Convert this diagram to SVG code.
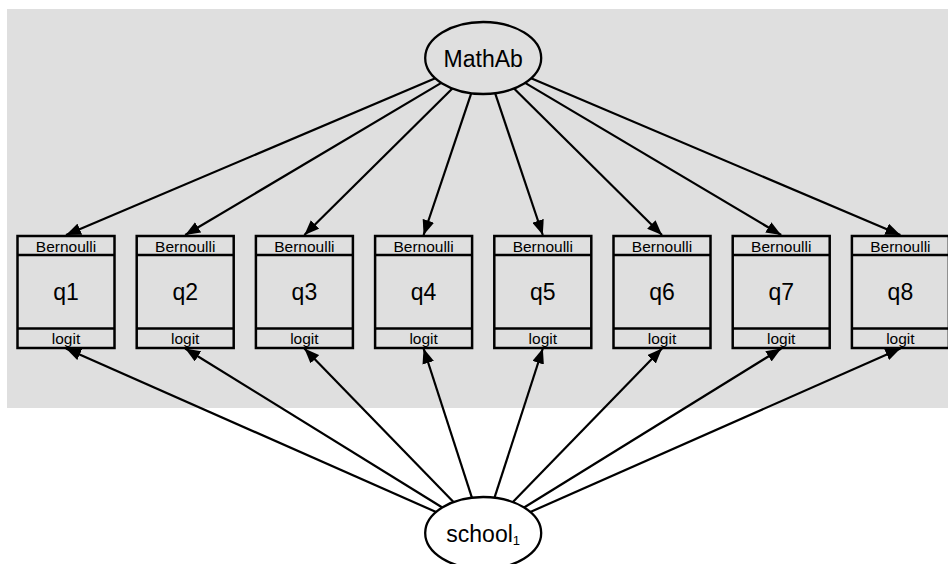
<svg xmlns="http://www.w3.org/2000/svg" width="948" height="564" viewBox="0 0 948 564">
<defs>
<marker id="ah" markerUnits="userSpaceOnUse" markerWidth="15" markerHeight="12" refX="15" refY="6" orient="auto">
<path d="M0,0 L15,6 L0,12 z" fill="#000"/>
</marker>
<style>
.bg{fill:#dfdfdf}
.box{fill:none;stroke:#000;stroke-width:2.5}
.sep{stroke:#000;stroke-width:2.5}
.ell{fill:none;stroke:#000;stroke-width:2.3}
.lab{font-family:"Liberation Sans",Arial,sans-serif;font-size:23px;text-anchor:middle;fill:#000}
.sub{font-size:13px;fill:#000}
.sm{font-family:"Liberation Sans",Arial,sans-serif;font-size:15.5px;text-anchor:middle;fill:#000}
.con line{stroke:#000;stroke-width:2.2;marker-end:url(#ah)}
</style>
</defs>
<rect class="bg" x="7" y="9" width="941" height="399"/>
<g id="connectors" class="con">
<line x1="435.3" y1="78.3" x2="66" y2="235"/>
<line x1="441.3" y1="82.9" x2="185.2" y2="235"/>
<line x1="452.4" y1="88.5" x2="304.4" y2="235"/>
<line x1="471.3" y1="93.2" x2="423.6" y2="235"/>
<line x1="495.1" y1="93.2" x2="542.8" y2="235"/>
<line x1="514.0" y1="88.5" x2="662" y2="235"/>
<line x1="525.1" y1="82.9" x2="781.2" y2="235"/>
<line x1="531.1" y1="78.3" x2="900.4" y2="235"/>
<line x1="436.1" y1="512.0" x2="66" y2="348.5"/>
<line x1="442.3" y1="507.5" x2="185.2" y2="348.5"/>
<line x1="453.5" y1="502.1" x2="304.4" y2="348.5"/>
<line x1="471.9" y1="497.7" x2="423.6" y2="348.5"/>
<line x1="494.5" y1="497.7" x2="542.8" y2="348.5"/>
<line x1="512.9" y1="502.1" x2="662" y2="348.5"/>
<line x1="524.1" y1="507.5" x2="781.2" y2="348.5"/>
<line x1="530.3" y1="512.0" x2="900.4" y2="348.5"/>
</g>
<g id="MathAb">
<ellipse class="ell" cx="483.2" cy="58" rx="58" ry="36"/>
<text class="lab" x="483.2" y="66.5">MathAb</text>
</g>
<g id="school1">
<ellipse class="ell" cx="483.2" cy="533" rx="58" ry="36"/>
<text class="lab" x="483.2" y="542">school<tspan class="sub" dy="3">1</tspan></text>
</g>
<g id="q1" transform="translate(17.5,0)">
<rect class="box" x="0" y="236" width="97" height="112"/>
<line class="sep" x1="0" y1="255" x2="97" y2="255"/>
<line class="sep" x1="0" y1="328.5" x2="97" y2="328.5"/>
<text class="sm" x="48.5" y="251.5">Bernoulli</text>
<text class="lab" x="48.5" y="300">q1</text>
<text class="sm" x="48.5" y="344">logit</text>
</g>
<g id="q2" transform="translate(136.7,0)">
<rect class="box" x="0" y="236" width="97" height="112"/>
<line class="sep" x1="0" y1="255" x2="97" y2="255"/>
<line class="sep" x1="0" y1="328.5" x2="97" y2="328.5"/>
<text class="sm" x="48.5" y="251.5">Bernoulli</text>
<text class="lab" x="48.5" y="300">q2</text>
<text class="sm" x="48.5" y="344">logit</text>
</g>
<g id="q3" transform="translate(255.9,0)">
<rect class="box" x="0" y="236" width="97" height="112"/>
<line class="sep" x1="0" y1="255" x2="97" y2="255"/>
<line class="sep" x1="0" y1="328.5" x2="97" y2="328.5"/>
<text class="sm" x="48.5" y="251.5">Bernoulli</text>
<text class="lab" x="48.5" y="300">q3</text>
<text class="sm" x="48.5" y="344">logit</text>
</g>
<g id="q4" transform="translate(375.1,0)">
<rect class="box" x="0" y="236" width="97" height="112"/>
<line class="sep" x1="0" y1="255" x2="97" y2="255"/>
<line class="sep" x1="0" y1="328.5" x2="97" y2="328.5"/>
<text class="sm" x="48.5" y="251.5">Bernoulli</text>
<text class="lab" x="48.5" y="300">q4</text>
<text class="sm" x="48.5" y="344">logit</text>
</g>
<g id="q5" transform="translate(494.3,0)">
<rect class="box" x="0" y="236" width="97" height="112"/>
<line class="sep" x1="0" y1="255" x2="97" y2="255"/>
<line class="sep" x1="0" y1="328.5" x2="97" y2="328.5"/>
<text class="sm" x="48.5" y="251.5">Bernoulli</text>
<text class="lab" x="48.5" y="300">q5</text>
<text class="sm" x="48.5" y="344">logit</text>
</g>
<g id="q6" transform="translate(613.5,0)">
<rect class="box" x="0" y="236" width="97" height="112"/>
<line class="sep" x1="0" y1="255" x2="97" y2="255"/>
<line class="sep" x1="0" y1="328.5" x2="97" y2="328.5"/>
<text class="sm" x="48.5" y="251.5">Bernoulli</text>
<text class="lab" x="48.5" y="300">q6</text>
<text class="sm" x="48.5" y="344">logit</text>
</g>
<g id="q7" transform="translate(732.7,0)">
<rect class="box" x="0" y="236" width="97" height="112"/>
<line class="sep" x1="0" y1="255" x2="97" y2="255"/>
<line class="sep" x1="0" y1="328.5" x2="97" y2="328.5"/>
<text class="sm" x="48.5" y="251.5">Bernoulli</text>
<text class="lab" x="48.5" y="300">q7</text>
<text class="sm" x="48.5" y="344">logit</text>
</g>
<g id="q8" transform="translate(851.9,0)">
<rect class="box" x="0" y="236" width="97" height="112"/>
<line class="sep" x1="0" y1="255" x2="97" y2="255"/>
<line class="sep" x1="0" y1="328.5" x2="97" y2="328.5"/>
<text class="sm" x="48.5" y="251.5">Bernoulli</text>
<text class="lab" x="48.5" y="300">q8</text>
<text class="sm" x="48.5" y="344">logit</text>
</g>
</svg>
